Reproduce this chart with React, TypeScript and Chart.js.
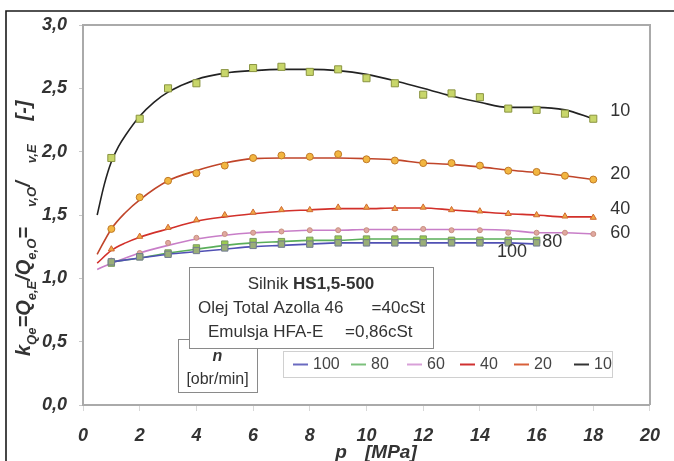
import React, { useEffect, useRef } from 'react';
import { Chart, registerables } from 'chart.js';

Chart.register(...registerables);

// ---- data ----
const pMeas = [1, 2, 3, 4, 5, 6, 7, 8, 9, 10, 11, 12, 13, 14, 15, 16, 17, 18];
const pMeasShort = [1, 2, 3, 4, 5, 6, 7, 8, 9, 10, 11, 12, 13, 14, 15, 16];

const meas10 = [1.95, 2.26, 2.5, 2.54, 2.62, 2.66, 2.67, 2.63, 2.65, 2.58, 2.54, 2.45, 2.46, 2.43, 2.34, 2.33, 2.3, 2.26];
const meas20 = [1.39, 1.64, 1.77, 1.83, 1.89, 1.95, 1.97, 1.96, 1.98, 1.94, 1.93, 1.91, 1.91, 1.89, 1.85, 1.84, 1.81, 1.78];
const meas40 = [1.23, 1.33, 1.4, 1.46, 1.5, 1.52, 1.54, 1.54, 1.56, 1.56, 1.55, 1.56, 1.54, 1.53, 1.51, 1.5, 1.49, 1.48];
const meas60 = [1.14, 1.2, 1.28, 1.32, 1.35, 1.36, 1.37, 1.38, 1.38, 1.38, 1.39, 1.39, 1.38, 1.38, 1.36, 1.36, 1.36, 1.35];
const meas80 = [1.12, 1.17, 1.2, 1.24, 1.27, 1.29, 1.29, 1.3, 1.31, 1.31, 1.31, 1.31, 1.3, 1.3, 1.3, 1.3];
const meas100 = [1.13, 1.17, 1.19, 1.22, 1.24, 1.26, 1.27, 1.27, 1.28, 1.28, 1.28, 1.28, 1.28, 1.28, 1.28, 1.28];

const pFit10 = [0.5, 0.75, 1, 1.25, 1.5, 2, 2.5, 3, 4, 5, 6, 7, 8, 9, 10, 11, 12, 13, 14, 15, 16, 17, 18];
const fit10 = [1.5, 1.74, 1.92, 2.04, 2.13, 2.28, 2.39, 2.47, 2.57, 2.62, 2.64, 2.65, 2.65, 2.64, 2.61, 2.56, 2.5, 2.44, 2.39, 2.35, 2.35, 2.33, 2.26];
const pFit = [0.5, 1, 1.5, 2, 3, 4, 5, 6, 7, 8, 9, 10, 11, 12, 13, 14, 15, 16, 17, 18];
const fit20 = [1.19, 1.39, 1.52, 1.62, 1.77, 1.85, 1.91, 1.945, 1.95, 1.95, 1.95, 1.945, 1.935, 1.91, 1.9, 1.88, 1.855, 1.835, 1.81, 1.78];
const fit40 = [1.12, 1.22, 1.28, 1.325, 1.39, 1.45, 1.485, 1.51, 1.53, 1.54, 1.55, 1.55, 1.555, 1.555, 1.54, 1.525, 1.51, 1.5, 1.485, 1.485];
const fit60 = [1.07, 1.12, 1.16, 1.2, 1.26, 1.31, 1.34, 1.36, 1.37, 1.38, 1.38, 1.385, 1.385, 1.385, 1.385, 1.385, 1.38, 1.36, 1.36, 1.35];
const pFitShort = [1, 2, 3, 4, 5, 6, 7, 8, 9, 10, 11, 12, 13, 14, 15, 16];
const fit80 = [1.13, 1.16, 1.2, 1.23, 1.26, 1.28, 1.29, 1.3, 1.3, 1.31, 1.31, 1.31, 1.31, 1.31, 1.31, 1.31];
const fit100 = [1.13, 1.16, 1.19, 1.21, 1.23, 1.25, 1.26, 1.27, 1.28, 1.28, 1.28, 1.28, 1.28, 1.28, 1.28, 1.27];

const xTicks = [0, 2, 4, 6, 8, 10, 12, 14, 16, 18, 20];
const yTicks = [0, 0.5, 1, 1.5, 2, 2.5, 3];

const legendNames = ['100', '80', '60', '40', '20', '10'];
const legendColors = ['#6a6ac0', '#7cc07c', '#d8a0d8', '#d03030', '#d8603a', '#333333'];

const FONT = "'Liberation Sans', Arial, Helvetica, sans-serif";

const toXY = (xs: number[], ys: number[]) => xs.map((x, i) => ({ x, y: ys[i] }));

function fitLine(label: string, xs: number[], ys: number[], color: string) {
  return {
    label,
    data: toXY(xs, ys),
    showLine: true,
    borderColor: color,
    borderWidth: 1.6,
    pointRadius: 0,
    cubicInterpolationMode: 'monotone',
    order: 2,
  };
}

function markers(label: string, xs: number[], ys: number[], style: string, r: number, fill: string, edge: string) {
  return {
    label,
    data: toXY(xs, ys),
    showLine: false,
    pointStyle: style,
    pointRadius: r,
    backgroundColor: fill,
    borderColor: edge,
    pointBorderWidth: 1,
    order: 1,
  };
}

const decorPlugin = {
  id: 'decor',
  beforeDraw(chart: any) {
    const ctx = chart.ctx;
    ctx.save();
    ctx.fillStyle = '#ffffff';
    ctx.fillRect(0, 0, chart.width, chart.height);
    ctx.restore();
  },
  afterDraw(chart: any) {
    const ctx = chart.ctx as CanvasRenderingContext2D;
    const { left, top, right, bottom } = chart.chartArea;
    const xs = chart.scales.x;
    const ys = chart.scales.y;
    ctx.save();

    // plot box top/right edges
    ctx.strokeStyle = '#aaaaaa';
    ctx.lineWidth = 2;
    ctx.beginPath();
    ctx.moveTo(left, top);
    ctx.lineTo(right, top);
    ctx.lineTo(right, bottom);
    ctx.stroke();

    // outer frame
    ctx.strokeStyle = '#1a1a1a';
    ctx.lineWidth = 1.6;
    ctx.beginPath();
    ctx.moveTo(6, 461);
    ctx.lineTo(6, 11);
    ctx.lineTo(674, 11);
    ctx.stroke();

    // series labels
    ctx.fillStyle = '#333333';
    ctx.font = `18px ${FONT}`;
    ctx.textBaseline = 'middle';
    ctx.textAlign = 'left';
    const lbls: [string, number, number][] = [
      ['10', 18.6, 2.32],
      ['20', 18.6, 1.82],
      ['40', 18.6, 1.55],
      ['60', 18.6, 1.36],
      ['80', 16.2, 1.29],
      ['100', 14.6, 1.21],
    ];
    for (const [t, px, py] of lbls) {
      ctx.fillText(t, xs.getPixelForValue(px), ys.getPixelForValue(py));
    }

    // box n [obr/min]
    ctx.fillStyle = '#ffffff';
    ctx.strokeStyle = '#8a8a8a';
    ctx.lineWidth = 1;
    ctx.fillRect(178, 339, 79, 53);
    ctx.strokeRect(178.5, 339.5, 79, 53);
    ctx.fillStyle = '#333333';
    ctx.textAlign = 'center';
    ctx.font = `italic bold 16px ${FONT}`;
    ctx.fillText('n', 217.5, 357);
    ctx.font = `16px ${FONT}`;
    ctx.fillText('[obr/min]', 217.5, 380);

    // main info box
    ctx.fillStyle = '#ffffff';
    ctx.fillRect(189, 267, 244, 81);
    ctx.strokeStyle = '#8a8a8a';
    ctx.strokeRect(189.5, 267.5, 244, 81);
    ctx.fillStyle = '#333333';
    ctx.textAlign = 'left';
    const s1 = 'Silnik ';
    ctx.font = `bold 17px ${FONT}`;
    const w2 = ctx.measureText('HS1,5-500').width;
    ctx.font = `17px ${FONT}`;
    const w1 = ctx.measureText(s1).width;
    const start1 = 311 - (w1 + w2) / 2;
    ctx.fillText(s1, start1, 284);
    ctx.font = `bold 17px ${FONT}`;
    ctx.fillText('HS1,5-500', start1 + w1, 284);
    ctx.font = `17px ${FONT}`;
    ctx.fillText('Olej Total Azolla 46', 198, 308);
    ctx.textAlign = 'right';
    ctx.fillText('=40cSt', 425, 308);
    ctx.textAlign = 'left';
    ctx.fillText('Emulsja HFA-E', 208, 332);
    ctx.fillText('=0,86cSt', 345, 332);

    // legend
    ctx.fillStyle = '#ffffff';
    ctx.fillRect(283, 351, 329, 26);
    ctx.strokeStyle = '#d0d0d0';
    ctx.strokeRect(283.5, 351.5, 329, 26);
    const legX = [293, 351, 407, 460, 514, 574];
    ctx.font = `16px ${FONT}`;
    ctx.textAlign = 'left';
    legendNames.forEach((n, i) => {
      ctx.strokeStyle = legendColors[i];
      ctx.lineWidth = 2;
      ctx.beginPath();
      ctx.moveTo(legX[i], 364.5);
      ctx.lineTo(legX[i] + 15, 364.5);
      ctx.stroke();
      ctx.fillStyle = '#444444';
      ctx.fillText(n, legX[i] + 20, 365);
    });

    // y axis title (rotated, with subscripts)
    const MAIN = `italic bold 20px ${FONT}`;
    const SUB = `italic bold 13px ${FONT}`;
    const segs: { t: string; sub?: boolean; gap?: number }[] = [
      { t: 'k' },
      { t: 'Qe', sub: true },
      { t: '=Q' },
      { t: 'e,E', sub: true },
      { t: '/Q' },
      { t: 'e,O', sub: true },
      { t: '=', gap: 20 },
      { t: 'v,O', sub: true },
      { t: '/', gap: 18 },
      { t: 'v,E', sub: true, gap: 24 },
      { t: '[-]' },
    ];
    ctx.save();
    ctx.translate(30, 356);
    ctx.rotate(-Math.PI / 2);
    ctx.fillStyle = '#333333';
    ctx.textAlign = 'left';
    ctx.textBaseline = 'alphabetic';
    let cx = 0;
    for (const s of segs) {
      ctx.font = s.sub ? SUB : MAIN;
      ctx.fillText(s.t, cx, s.sub ? 6 : 0);
      cx += ctx.measureText(s.t).width + (s.gap || 0);
    }
    ctx.restore();

    // x axis title
    ctx.fillStyle = '#333333';
    ctx.font = `italic bold 19px ${FONT}`;
    ctx.textBaseline = 'alphabetic';
    ctx.textAlign = 'center';
    ctx.fillText('p', 341, 458);
    ctx.textAlign = 'left';
    ctx.fillText('[MPa]', 365, 458);

    ctx.restore();
  },
};

export default function App() {
  const ref = useRef<HTMLCanvasElement | null>(null);
  useEffect(() => {
    if (!ref.current) return;
    const chart = new Chart(ref.current, {
      type: 'scatter',
      data: {
        datasets: [
          fitLine('100', pFitShort, fit100, '#5050b4'),
          fitLine('80', pFitShort, fit80, '#5aae5a'),
          fitLine('60', pFit, fit60, '#c87ec8'),
          fitLine('40', pFit, fit40, '#d2302a'),
          fitLine('20', pFit, fit20, '#c0452a'),
          fitLine('10', pFit10, fit10, '#222222'),
          markers('100 pts', pMeasShort, meas100, 'rect', 4.5, '#9aae78', '#707a90'),
          markers('80 pts', pMeasShort, meas80, 'rect', 4.5, '#9ccc50', '#7a9a60'),
          markers('60 pts', pMeas, meas60, 'circle', 2.5, '#e0a8a0', '#c89080'),
          markers('40 pts', pMeas, meas40, 'triangle', 3.5, '#f0a848', '#d06a30'),
          markers('20 pts', pMeas, meas20, 'circle', 3.5, '#f2b640', '#c07a28'),
          markers('10 pts', pMeas, meas10, 'rect', 5, '#c8d66a', '#8a9440'),
        ] as any,
      },
      options: {
        animation: false,
        responsive: false,
        layout: { padding: { left: 0, top: 25, right: 17, bottom: 0 } },
        plugins: { legend: { display: false }, tooltip: { enabled: false } },
        scales: {
          x: {
            type: 'linear',
            min: 0,
            max: 20,
            afterBuildTicks: (s: any) => {
              s.ticks = xTicks.map((v) => ({ value: v }));
            },
            afterFit: (s: any) => {
              s.height = 56;
            },
            ticks: {
              autoSkip: false,
              maxRotation: 0,
              color: '#333333',
              padding: 14,
              font: { family: FONT, size: 18, style: 'italic', weight: 'bold' },
              callback: (v: any) => String(v),
            },
            grid: { drawOnChartArea: false, tickLength: 6, color: '#d8d8d8' },
            border: { display: true, color: '#aaaaaa', width: 2 },
          },
          y: {
            type: 'linear',
            min: 0,
            max: 3,
            afterBuildTicks: (s: any) => {
              s.ticks = yTicks.map((v) => ({ value: v }));
            },
            afterFit: (s: any) => {
              s.width = 83;
            },
            ticks: {
              color: '#333333',
              padding: 12,
              font: { family: FONT, size: 18, style: 'italic', weight: 'bold' },
              callback: (v: any) => Number(v).toFixed(1).replace('.', ','),
            },
            grid: { drawOnChartArea: false, tickLength: 4, color: '#c8c8c8' },
            border: { display: true, color: '#aaaaaa', width: 2 },
          },
        },
      } as any,
      plugins: [decorPlugin],
    });
    return () => chart.destroy();
  }, []);

  return (
    <div style={{ position: 'fixed', left: 0, top: 0, width: 674, height: 461, background: '#fff' }}>
      <canvas ref={ref} width={674} height={461} style={{ display: 'block', width: 674, height: 461 }} />
    </div>
  );
}
